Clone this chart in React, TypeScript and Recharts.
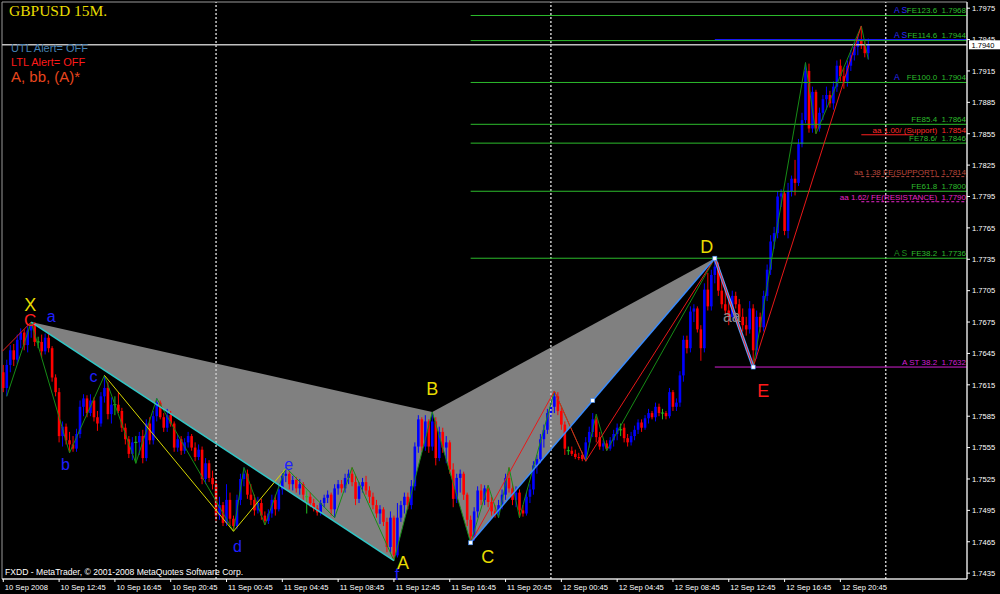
import React from "react";
import {
  ComposedChart,
  XAxis,
  YAxis,
  Bar,
  Line,
  Area,
  ReferenceLine,
  ReferenceDot,
  ReferenceArea,
} from "recharts";

type OHLC = [number, number, number, number]; // open, high, low, close

// GBPUSD M15 — 10 Sep 2008 08:45 to 23:45
const sep10Bars: OHLC[] = [
  [1.7627, 1.7634, 1.7608, 1.7612], [1.7612, 1.7639, 1.7604, 1.7634], [1.7634, 1.7653, 1.7627, 1.7648],
  [1.7648, 1.7654, 1.7633, 1.7639], [1.7639, 1.7663, 1.7635, 1.7658], [1.7658, 1.7669, 1.765, 1.7665],
  [1.7665, 1.7668, 1.7648, 1.7653], [1.7653, 1.7671, 1.7646, 1.7667], [1.7667, 1.7675, 1.766, 1.7672],
  [1.7672, 1.7674, 1.7652, 1.7656], [1.7656, 1.7661, 1.765, 1.7656], [1.7656, 1.7663, 1.7641, 1.7647],
  [1.7647, 1.7664, 1.7644, 1.766], [1.766, 1.7664, 1.7646, 1.765], [1.765, 1.7652, 1.7618, 1.7622],
  [1.7622, 1.7625, 1.7604, 1.7608], [1.7608, 1.7612, 1.756, 1.7566], [1.7566, 1.758, 1.7556, 1.7575],
  [1.7575, 1.7578, 1.7558, 1.7562], [1.7562, 1.757, 1.755, 1.7558], [1.7558, 1.7566, 1.7551, 1.7554],
  [1.7554, 1.7573, 1.7551, 1.7568], [1.7568, 1.76, 1.7564, 1.7594], [1.7594, 1.7606, 1.7585, 1.7602],
  [1.7602, 1.7605, 1.7584, 1.7588], [1.7588, 1.7606, 1.7585, 1.76], [1.76, 1.7603, 1.758, 1.7584],
  [1.7584, 1.759, 1.7571, 1.7578], [1.7578, 1.7608, 1.7575, 1.7604], [1.7604, 1.7624, 1.7598, 1.7612],
  [1.7612, 1.7618, 1.7582, 1.7587], [1.7587, 1.7603, 1.7578, 1.7596], [1.7596, 1.7604, 1.7586, 1.7596],
  [1.7596, 1.7608, 1.7588, 1.759], [1.759, 1.7593, 1.757, 1.7574], [1.7574, 1.7578, 1.7558, 1.7563],
  [1.7563, 1.7566, 1.7545, 1.7549], [1.7549, 1.7565, 1.7543, 1.756], [1.756, 1.7566, 1.754, 1.756],
  [1.756, 1.757, 1.7548, 1.7566], [1.7566, 1.7572, 1.754, 1.7545], [1.7545, 1.7582, 1.7542, 1.7578],
  [1.7578, 1.7584, 1.7558, 1.7562], [1.7562, 1.759, 1.7558, 1.7585], [1.7585, 1.7602, 1.758, 1.7598],
  [1.7598, 1.76, 1.7582, 1.7584], [1.7584, 1.7588, 1.757, 1.7574], [1.7574, 1.7592, 1.757, 1.7586],
  [1.7586, 1.759, 1.7575, 1.7578], [1.7578, 1.758, 1.7551, 1.7555], [1.7555, 1.7567, 1.7551, 1.7563],
  [1.7563, 1.7566, 1.7548, 1.7552], [1.7552, 1.7564, 1.7549, 1.756], [1.756, 1.757, 1.7555, 1.7566],
  [1.7566, 1.7568, 1.7552, 1.7555], [1.7555, 1.756, 1.7542, 1.7546], [1.7546, 1.7558, 1.7543, 1.7553],
  [1.7553, 1.7556, 1.752, 1.7525], [1.7525, 1.7545, 1.752, 1.754], [1.754, 1.7543, 1.7522, 1.7526],
  [1.7526, 1.7533, 1.7515, 1.752],
];

// 11 Sep 2008 00:00 to 23:45
const sep11Bars: OHLC[] = [
  [1.752, 1.7524, 1.7485, 1.749], [1.749, 1.7508, 1.7486, 1.75], [1.75, 1.7503, 1.748, 1.7483],
  [1.7483, 1.752, 1.748, 1.7505], [1.7505, 1.7512, 1.748, 1.7487], [1.7487, 1.749, 1.7475, 1.748],
  [1.748, 1.751, 1.7477, 1.7505], [1.7505, 1.753, 1.75, 1.7525], [1.7525, 1.7536, 1.7518, 1.753],
  [1.753, 1.7534, 1.7506, 1.751], [1.751, 1.752, 1.75, 1.7505], [1.7505, 1.751, 1.749, 1.7495],
  [1.7495, 1.7508, 1.7492, 1.7502], [1.7502, 1.7506, 1.7486, 1.749], [1.749, 1.7494, 1.7481, 1.7485],
  [1.7485, 1.7496, 1.7482, 1.7492], [1.7492, 1.751, 1.7488, 1.7505], [1.7505, 1.751, 1.749, 1.7496],
  [1.7496, 1.752, 1.7494, 1.7515], [1.7515, 1.7532, 1.751, 1.7528], [1.7528, 1.7536, 1.7522, 1.753],
  [1.753, 1.7533, 1.7515, 1.752], [1.752, 1.7528, 1.7514, 1.7524], [1.7524, 1.7527, 1.7512, 1.7516],
  [1.7516, 1.7525, 1.751, 1.752], [1.752, 1.7522, 1.7505, 1.751], [1.7508, 1.7514, 1.7492, 1.7508],
  [1.7508, 1.7512, 1.7498, 1.7502], [1.7502, 1.7506, 1.7494, 1.7497], [1.7497, 1.75, 1.749, 1.7493],
  [1.7493, 1.7505, 1.749, 1.7502], [1.7502, 1.751, 1.7498, 1.7507], [1.7507, 1.7514, 1.7502, 1.751],
  [1.751, 1.7512, 1.749, 1.7496], [1.7496, 1.752, 1.7488, 1.7516], [1.7516, 1.7524, 1.751, 1.752],
  [1.752, 1.7524, 1.7512, 1.7516], [1.7516, 1.753, 1.7512, 1.7526], [1.7526, 1.7534, 1.752, 1.753],
  [1.753, 1.7536, 1.7518, 1.7522], [1.7522, 1.7528, 1.75, 1.7506], [1.7506, 1.7522, 1.7502, 1.7518],
  [1.7518, 1.7526, 1.7512, 1.7522], [1.7522, 1.7528, 1.751, 1.7514], [1.7514, 1.7518, 1.7502, 1.7508],
  [1.7508, 1.7512, 1.7496, 1.75], [1.75, 1.7505, 1.7488, 1.7492], [1.7492, 1.75, 1.7482, 1.7496],
  [1.7496, 1.7498, 1.748, 1.7484], [1.7484, 1.7488, 1.7455, 1.746], [1.746, 1.7494, 1.7455, 1.7488],
  [1.7488, 1.749, 1.7447, 1.7452], [1.7452, 1.7502, 1.745, 1.7488], [1.7488, 1.7504, 1.7484, 1.75],
  [1.75, 1.7512, 1.7492, 1.7508], [1.7508, 1.7512, 1.7496, 1.75], [1.75, 1.7524, 1.7496, 1.7518],
  [1.7518, 1.756, 1.7514, 1.7556], [1.7556, 1.7586, 1.755, 1.7582], [1.7582, 1.7584, 1.7552, 1.7556],
  [1.7556, 1.7586, 1.7552, 1.758], [1.758, 1.7582, 1.755, 1.7556], [1.7556, 1.7589, 1.7552, 1.758],
  [1.758, 1.7584, 1.7538, 1.7545], [1.7545, 1.7575, 1.7542, 1.757], [1.757, 1.7574, 1.755, 1.7555],
  [1.7555, 1.7566, 1.754, 1.756], [1.756, 1.7562, 1.753, 1.7534], [1.7534, 1.754, 1.7498, 1.7506],
  [1.7506, 1.753, 1.7502, 1.7526], [1.7526, 1.7534, 1.7512, 1.753], [1.753, 1.7532, 1.7505, 1.751],
  [1.751, 1.7512, 1.748, 1.7486], [1.7486, 1.749, 1.7464, 1.747], [1.747, 1.7498, 1.7466, 1.7494],
  [1.7494, 1.7518, 1.7488, 1.7514], [1.7514, 1.752, 1.75, 1.7505], [1.7505, 1.7519, 1.75, 1.7516],
  [1.7516, 1.7519, 1.7498, 1.7503], [1.7503, 1.7508, 1.749, 1.7494], [1.7494, 1.75, 1.7488, 1.7491],
  [1.7491, 1.7505, 1.7488, 1.75], [1.75, 1.7515, 1.7496, 1.751], [1.751, 1.753, 1.7505, 1.7526],
  [1.7526, 1.7536, 1.7512, 1.7516], [1.7516, 1.752, 1.75, 1.7505], [1.7505, 1.7518, 1.7498, 1.7512],
  [1.7512, 1.7515, 1.7488, 1.7495], [1.7495, 1.75, 1.7489, 1.7492], [1.7492, 1.7512, 1.749, 1.7508],
  [1.7508, 1.752, 1.7502, 1.7515], [1.7515, 1.7542, 1.751, 1.7538], [1.7538, 1.7548, 1.753, 1.7544],
  [1.7544, 1.7568, 1.754, 1.7563], [1.7563, 1.7577, 1.7555, 1.7572], [1.7572, 1.7592, 1.7568, 1.7588],
];

// 12 Sep 2008 00:00 to 22:45
const sep12Bars: OHLC[] = [
  [1.7588, 1.7598, 1.7582, 1.7594], [1.7594, 1.7609, 1.7588, 1.7604], [1.7604, 1.7608, 1.7586, 1.759],
  [1.759, 1.7594, 1.7572, 1.7577], [1.7577, 1.758, 1.7548, 1.7554], [1.7552, 1.7556, 1.7548, 1.7552],
  [1.7552, 1.7556, 1.7547, 1.7549], [1.7549, 1.7553, 1.7544, 1.7546], [1.7546, 1.755, 1.7543, 1.7545],
  [1.7548, 1.7551, 1.7542, 1.7544], [1.7544, 1.7565, 1.7542, 1.756], [1.756, 1.7575, 1.7555, 1.757],
  [1.757, 1.7588, 1.7565, 1.7582], [1.7582, 1.7585, 1.756, 1.7565], [1.7565, 1.757, 1.7553, 1.7556],
  [1.7556, 1.7562, 1.7552, 1.7559], [1.7559, 1.7562, 1.7552, 1.7554], [1.7554, 1.7565, 1.7552, 1.7562],
  [1.7562, 1.7572, 1.7556, 1.7568], [1.7568, 1.7578, 1.7562, 1.7574], [1.7572, 1.7578, 1.7566, 1.7572],
  [1.7574, 1.7578, 1.756, 1.7564], [1.7564, 1.7568, 1.7556, 1.756], [1.756, 1.757, 1.7557, 1.7566],
  [1.7566, 1.7576, 1.7562, 1.7572], [1.7572, 1.7582, 1.7568, 1.7579], [1.7579, 1.7582, 1.757, 1.7574],
  [1.7574, 1.7586, 1.7572, 1.7583], [1.7583, 1.7592, 1.7578, 1.7588], [1.7588, 1.759, 1.7582, 1.7584],
  [1.7584, 1.7598, 1.758, 1.7594], [1.7594, 1.7597, 1.7585, 1.7588], [1.7588, 1.7592, 1.7582, 1.7588],
  [1.7588, 1.759, 1.7582, 1.7585], [1.7585, 1.7612, 1.7583, 1.7608], [1.7608, 1.761, 1.759, 1.7594],
  [1.7594, 1.7602, 1.759, 1.7598], [1.7598, 1.7628, 1.7594, 1.7624], [1.7624, 1.7662, 1.7618, 1.7658],
  [1.7658, 1.7662, 1.7645, 1.765], [1.765, 1.769, 1.7646, 1.7685], [1.7685, 1.7692, 1.7675, 1.7688],
  [1.7688, 1.769, 1.7665, 1.7668], [1.7668, 1.7672, 1.7638, 1.765], [1.765, 1.7712, 1.7646, 1.7706],
  [1.7706, 1.7722, 1.7686, 1.769], [1.769, 1.7725, 1.7686, 1.772], [1.772, 1.7736, 1.7712, 1.7728],
  [1.7728, 1.7732, 1.77, 1.7705], [1.7705, 1.7715, 1.7688, 1.7692], [1.7692, 1.7706, 1.7682, 1.7686],
  [1.7686, 1.77, 1.7672, 1.768], [1.768, 1.7705, 1.7676, 1.77], [1.77, 1.7704, 1.7688, 1.7692],
  [1.7692, 1.7697, 1.7675, 1.768], [1.768, 1.7688, 1.7666, 1.7672], [1.7672, 1.768, 1.7662, 1.7668],
  [1.7668, 1.7695, 1.7664, 1.7688], [1.7688, 1.7692, 1.7632, 1.7648], [1.7648, 1.7686, 1.764, 1.768],
  [1.768, 1.7684, 1.7665, 1.767], [1.767, 1.7705, 1.7666, 1.77], [1.77, 1.773, 1.7695, 1.7725],
  [1.7725, 1.7758, 1.772, 1.7752], [1.7752, 1.7766, 1.7745, 1.776], [1.776, 1.78, 1.7755, 1.7795],
  [1.7795, 1.7802, 1.7785, 1.7798], [1.7798, 1.78, 1.7758, 1.7762], [1.7762, 1.7808, 1.7755, 1.78],
  [1.78, 1.7815, 1.7795, 1.7812], [1.7812, 1.783, 1.7796, 1.7808], [1.7808, 1.785, 1.7805, 1.7845],
  [1.7845, 1.7875, 1.7842, 1.7868], [1.7868, 1.7923, 1.7865, 1.7915], [1.7915, 1.7922, 1.7856, 1.786],
  [1.786, 1.79, 1.7856, 1.7895], [1.7895, 1.7897, 1.7855, 1.786], [1.786, 1.788, 1.7857, 1.7875],
  [1.7875, 1.7892, 1.7868, 1.7888], [1.7888, 1.79, 1.7878, 1.7892], [1.7892, 1.7896, 1.788, 1.7884],
  [1.7884, 1.7905, 1.7878, 1.79], [1.79, 1.7925, 1.7895, 1.792], [1.792, 1.7926, 1.7905, 1.791],
  [1.791, 1.7918, 1.7898, 1.7905], [1.7905, 1.7925, 1.79, 1.792], [1.792, 1.7935, 1.7915, 1.793],
  [1.793, 1.7942, 1.7925, 1.7938], [1.7938, 1.7948, 1.793, 1.7944], [1.7944, 1.7958, 1.7936, 1.794],
  [1.794, 1.7944, 1.7928, 1.7932], [1.7932, 1.7946, 1.7926, 1.794],
];

// time axis: bar index of each label (bar 0 = 10 Sep 08:45)
const timeTickBars = [0, 16, 32, 48, 64, 80, 96, 112, 128, 144, 160, 176, 192, 208, 224, 240];
const timeLabels = [
  "10 Sep 2008", "10 Sep 12:45", "10 Sep 16:45", "10 Sep 20:45",
  "11 Sep 00:45", "11 Sep 04:45", "11 Sep 08:45", "11 Sep 12:45",
  "11 Sep 16:45", "11 Sep 20:45", "12 Sep 00:45", "12 Sep 04:45",
  "12 Sep 08:45", "12 Sep 12:45", "12 Sep 16:45", "12 Sep 20:45",
];
const daySeparatorBars = [61, 157, 253];

const priceTicks = [
  1.7435, 1.7465, 1.7495, 1.7525, 1.7555, 1.7585, 1.7615, 1.7645, 1.7675, 1.7705,
  1.7735, 1.7765, 1.7795, 1.7825, 1.7855, 1.7885, 1.7915, 1.7945, 1.7975,
];
const bidPrice = 1.794;

// harmonic pattern pivots (bar index, price)
const X = { i: 8, p: 1.7675 };
const A = { i: 112, p: 1.7447 };
const B = { i: 123, p: 1.7589 };
const C = { i: 134, p: 1.7464 };
const D = { i: 204, p: 1.7736 };
const E = { i: 215, p: 1.7632 };
const cdMid = { i: 169, p: 1.76 };
const smallB = { i: 19, p: 1.755 };
const smallC = { i: 29, p: 1.7624 };
const smallD = { i: 66, p: 1.7475 };
const smallE = { i: 81, p: 1.7535 };

const greenZigzag: [number, number][] = [
  [1, 1.7604], [8, 1.7675], [19, 1.755], [29, 1.7624], [38, 1.754], [44, 1.7602],
  [66, 1.7475], [69, 1.7536], [75, 1.7481], [81, 1.7536], [95, 1.7488], [100, 1.7536],
  [112, 1.7447], [123, 1.7589], [134, 1.7464], [139, 1.7519], [142, 1.7488], [145, 1.7536],
  [148, 1.7488], [158, 1.7609], [167, 1.7542], [170, 1.7587], [173, 1.7552], [204, 1.7736],
  [215, 1.7632], [230, 1.7923], [233, 1.7855], [246, 1.7958], [248, 1.7926],
];
const redLegs: [number, number][][] = [
  [[-0.3, 1.7647], [8, 1.7675]],
  [[134, 1.7464], [158, 1.7609], [167, 1.7542], [204, 1.7736]],
  [[215, 1.7632], [246, 1.7958]],
];
const yellowLeg: [number, number][] = [[29, 1.7624], [66, 1.7475], [81, 1.7535]];

// Fibonacci expansion levels
const feLevels = [
  { label: "FE123.6  1.7968", value: 1.7968, tag: "A S" },
  { label: "FE114.6  1.7944", value: 1.7944, tag: "A S" },
  { label: "FE100.0  1.7904", value: 1.7904, tag: "A" },
  { label: "FE85.4  1.7864", value: 1.7864, tag: "" },
  { label: "FE78.6/  1.7846", value: 1.7846, tag: "" },
  { label: "FE61.8  1.7800", value: 1.78, tag: "" },
  { label: "FE38.2  1.7736", value: 1.7736, tag: "A S" },
];
const supportLevel = { label: "aa 1.00/ (Support)  1.7854", value: 1.7854 };
const feSupport = { label: "aa 1.38 FE(SUPPORT)  1.7814", value: 1.7814 };
const feResistance = { label: "aa 1.62/ FE(RESISTANCE)  1.7790", value: 1.779 };
const stLevel = { label: "A ST 38.2  1.7632", value: 1.7632 };
const blueTarget = 1.7945;

// ---- layout / style ----
const W = 1000;
const H = 594;
const X_MIN = -0.37;
const X_MAX = 276.3;
const Y_MIN = 1.74294;
const Y_MAX = 1.79809;
const SANS = '"Liberation Sans", Arial, sans-serif';
const SERIF = '"Liberation Serif", "Times New Roman", serif';
const BULL = "#0000ff";
const BEAR = "#ff0000";
const DOJI = "#22c022";
const YELLOW = "#e8dc00";
const LETTER_BLUE = "#1f1fff";
const FE_GREEN = "#2cbc2c";

const candles = [...sep10Bars, ...sep11Bars, ...sep12Bars].map(([o, h, l, c], i) => ({
  i, o, h, l, c, range: [l, h],
}));

const pts = (pairs: [number, number][]) => pairs.map(([i, p]) => ({ i, p }));
const along = (a: { i: number; p: number }, b: { i: number; p: number }, i: number) =>
  a.p + ((b.p - a.p) * (i - a.i)) / (b.i - a.i);

const triangleXAB = [
  { i: X.i, r: [X.p, X.p] },
  { i: A.i, r: [A.p, along(X, B, A.i)] },
  { i: B.i, r: [B.p, B.p] },
];
const triangleBCD = [
  { i: B.i, r: [B.p, B.p] },
  { i: C.i, r: [C.p, along(B, D, C.i)] },
  { i: D.i, r: [D.p, D.p] },
];
const span = (from: number, to: number, v: number) => [
  { i: from, p: v },
  { i: to, p: v },
];

function CandleShape(props: any) {
  const { x, y, width, height, payload } = props;
  if (!payload || typeof x !== "number" || typeof y !== "number") return null;
  const top = Math.min(y, y + height);
  const bottom = Math.max(y, y + height);
  const { o, h, l, c } = payload;
  const rng = h - l || 1;
  const py = (v: number) => top + ((h - v) / rng) * (bottom - top);
  const cx = x + width / 2;
  const color = c > o ? BULL : c < o ? BEAR : DOJI;
  const bTop = py(Math.max(o, c));
  const bBot = py(Math.min(o, c));
  return (
    <g>
      <line x1={cx} x2={cx} y1={top} y2={bottom} stroke={color} strokeWidth={1} />
      {c === o ? (
        <line x1={cx - 1.6} x2={cx + 1.6} y1={bTop} y2={bTop} stroke={color} strokeWidth={1} />
      ) : (
        <rect x={cx - 1.3} y={bTop} width={2.6} height={Math.max(1, bBot - bTop)} fill={color} />
      )}
    </g>
  );
}

const textShape =
  (text: string, color: string, size: number, dx: number, dy: number, anchor = "middle", family = SANS) =>
  (props: any) =>
    (
      <text
        x={props.cx + dx}
        y={props.cy + dy}
        fill={color}
        fontSize={size}
        fontFamily={family}
        textAnchor={anchor}
        style={{ whiteSpace: "pre" }}
      >
        {text}
      </text>
    );

const markerShape = (props: any) => (
  <rect x={props.cx - 2} y={props.cy - 2} width={4} height={4} fill="#ffffff" stroke="#3a8cff" strokeWidth={0.6} />
);

const priceBoxShape = (props: any) => (
  <g>
    <rect x={props.cx + 2} y={props.cy - 4.5} width={31} height={9} fill="#ffffff" />
    <text x={props.cx + 4.5} y={props.cy + 2.8} fill="#000" fontSize={7.5} fontFamily={SANS}>
      {bidPrice.toFixed(4)}
    </text>
  </g>
);

const pointLabels = [
  { text: "X", at: X, color: YELLOW, size: 18, dx: -1, dy: -11 },
  { text: "C", at: X, color: "#ff2020", size: 17, dx: -1, dy: 4 },
  { text: "a", at: X, color: LETTER_BLUE, size: 16, dx: 20, dy: 0 },
  { text: "b", at: smallB, color: LETTER_BLUE, size: 16, dx: -4, dy: 17 },
  { text: "c", at: smallC, color: LETTER_BLUE, size: 16, dx: -11, dy: 7 },
  { text: "d", at: smallD, color: LETTER_BLUE, size: 16, dx: 4, dy: 21 },
  { text: "e", at: smallE, color: LETTER_BLUE, size: 16, dx: 3, dy: 1 },
  { text: "f", at: A, color: LETTER_BLUE, size: 16, dx: 3, dy: 19 },
  { text: "A", at: A, color: YELLOW, size: 18, dx: 9, dy: 8 },
  { text: "B", at: B, color: YELLOW, size: 18, dx: 0, dy: -17 },
  { text: "C", at: C, color: YELLOW, size: 18, dx: 17, dy: 20 },
  { text: "D", at: D, color: YELLOW, size: 18, dx: -8, dy: -5 },
  { text: "E", at: E, color: "#ff1a1a", size: 18, dx: 10, dy: 30 },
  { text: "aa", at: D, color: "#8a8a8a", size: 16, dx: 17, dy: 64 },
];

const TimeTick = (props: any) => {
  const { x, y, payload, index } = props;
  const k = timeTickBars.indexOf(payload.value);
  const label = timeLabels[k >= 0 ? k : index] ?? "";
  return (
    <text x={x + 1.5} y={y + 8} fill="#ffffff" fontSize={7.6} fontFamily={SANS} textAnchor="start">
      {label}
    </text>
  );
};

const PriceTick = (props: any) => {
  const { x, y, payload } = props;
  return (
    <text x={x} y={y + 2.8} fill="#ffffff" fontSize={7.6} fontFamily={SANS} textAnchor="start">
      {Number(payload.value).toFixed(4)}
    </text>
  );
};

export default function App() {
  return (
    <div style={{ position: "fixed", left: 0, top: 0, width: W, height: H, background: "#000", overflow: "hidden" }}>
      <ComposedChart width={W} height={H} data={candles} margin={{ top: 2, right: 0, bottom: 0, left: 2 }}>
        <XAxis
          dataKey="i"
          type="number"
          domain={[X_MIN, X_MAX]}
          allowDataOverflow
          ticks={timeTickBars}
          interval={0}
          height={15}
          tickSize={3}
          tickMargin={0}
          axisLine={{ stroke: "#ffffff" }}
          tickLine={{ stroke: "#ffffff" }}
          tick={TimeTick}
        />
        <YAxis
          orientation="right"
          type="number"
          domain={[Y_MIN, Y_MAX]}
          allowDataOverflow
          ticks={priceTicks}
          interval={0}
          width={33}
          tickSize={3}
          tickMargin={2}
          axisLine={{ stroke: "#ffffff" }}
          tickLine={{ stroke: "#ffffff" }}
          tick={PriceTick}
        />

        <ReferenceArea x1={X_MIN} x2={X_MAX} y1={Y_MIN} y2={Y_MAX} fill="none" stroke="#9a9a9a" ifOverflow="visible" />

        {/* pattern triangles */}
        <Area data={triangleXAB} dataKey="r" type="linear" fill="#808080" fillOpacity={1} stroke="none" dot={false} activeDot={false} isAnimationActive={false} />
        <Area data={triangleBCD} dataKey="r" type="linear" fill="#808080" fillOpacity={1} stroke="none" dot={false} activeDot={false} isAnimationActive={false} />

        {daySeparatorBars.map((b) => (
          <ReferenceLine key={`sep${b}`} x={b} stroke="#c8c8c8" strokeWidth={1.5} strokeDasharray="2 2" ifOverflow="visible" />
        ))}

        {/* level lines */}
        {feLevels.map((lv) => (
          <Line key={`fe${lv.value}`} data={span(C.i, X_MAX, lv.value)} dataKey="p" stroke={FE_GREEN} strokeWidth={1} dot={false} activeDot={false} isAnimationActive={false} />
        ))}
        <Line data={span(D.i, X_MAX, blueTarget)} dataKey="p" stroke="#1a1aff" strokeWidth={1} dot={false} activeDot={false} isAnimationActive={false} />
        <Line data={span(X_MIN, X_MAX, bidPrice)} dataKey="p" stroke="#c0c0c0" strokeWidth={1.5} dot={false} activeDot={false} isAnimationActive={false} />
        <Line data={span(246, 261, supportLevel.value)} dataKey="p" stroke="#ff2020" strokeWidth={1} dot={false} activeDot={false} isAnimationActive={false} />
        <Line data={span(246, X_MAX, feSupport.value)} dataKey="p" stroke="#b8463a" strokeWidth={1} strokeDasharray="3 2" dot={false} activeDot={false} isAnimationActive={false} />
        <Line data={span(246, X_MAX, feResistance.value)} dataKey="p" stroke="#e824c8" strokeWidth={1} strokeDasharray="3 2" dot={false} activeDot={false} isAnimationActive={false} />
        <Line data={span(D.i, X_MAX, stLevel.value)} dataKey="p" stroke="#d21ed2" strokeWidth={1} dot={false} activeDot={false} isAnimationActive={false} />

        {/* candles */}
        <Bar dataKey="range" barSize={3} shape={CandleShape} isAnimationActive={false} />

        {/* swing lines */}
        <Line data={pts(greenZigzag)} dataKey="p" stroke="#168c16" strokeWidth={1} dot={false} activeDot={false} isAnimationActive={false} />
        {redLegs.map((leg, k) => (
          <Line key={`red${k}`} data={pts(leg)} dataKey="p" stroke="#e81818" strokeWidth={1} dot={false} activeDot={false} isAnimationActive={false} />
        ))}
        <Line data={pts(yellowLeg)} dataKey="p" stroke="#d8d800" strokeWidth={1} dot={false} activeDot={false} isAnimationActive={false} />
        <Line data={[X, A]} dataKey="p" stroke="#30c8c8" strokeWidth={1.5} dot={false} activeDot={false} isAnimationActive={false} />
        <Line data={[C, D]} dataKey="p" stroke="#3a8cff" strokeWidth={1.5} dot={false} activeDot={false} isAnimationActive={false} />
        <Line data={[D, E]} dataKey="p" stroke="#5aa0ff" strokeWidth={3} dot={false} activeDot={false} isAnimationActive={false} />
        <Line data={[D, E]} dataKey="p" stroke="#ff2020" strokeWidth={1} dot={false} activeDot={false} isAnimationActive={false} />

        {[C, cdMid, D, E].map((m, k) => (
          <ReferenceDot key={`m${k}`} x={m.i} y={m.p} r={2} shape={markerShape} ifOverflow="visible" />
        ))}

        {/* level labels */}
        {feLevels.map((lv) => (
          <ReferenceDot key={`fel${lv.value}`} x={X_MAX} y={lv.value} r={0} ifOverflow="visible" shape={textShape(lv.label, FE_GREEN, 8, -1, -2.5, "end")} />
        ))}
        {feLevels
          .filter((lv) => lv.tag)
          .map((lv) => (
            <ReferenceDot key={`tag${lv.value}`} x={X_MAX} y={lv.value} r={0} ifOverflow="visible" shape={textShape(lv.tag, lv.value === D.p ? "#1e8c1e" : "#2a2aff", 8.5, -73, -2.5, "start")} />
          ))}
        <ReferenceDot x={X_MAX} y={supportLevel.value} r={0} ifOverflow="visible" shape={textShape(supportLevel.label, "#ff2a2a", 8, -1, -2, "end")} />
        <ReferenceDot x={X_MAX} y={feSupport.value} r={0} ifOverflow="visible" shape={textShape(feSupport.label, "#b8463a", 8, -1, -2, "end")} />
        <ReferenceDot x={X_MAX} y={feResistance.value} r={0} ifOverflow="visible" shape={textShape(feResistance.label, "#e824c8", 8, -1, -2, "end")} />
        <ReferenceDot x={X_MAX} y={stLevel.value} r={0} ifOverflow="visible" shape={textShape(stLevel.label, "#d21ed2", 8, -1, -2, "end")} />

        {/* pivot letters */}
        {pointLabels.map((lb, k) => (
          <ReferenceDot key={`pl${k}`} x={lb.at.i} y={lb.at.p} r={0} ifOverflow="visible" shape={textShape(lb.text, lb.color, lb.size, lb.dx, lb.dy)} />
        ))}

        <ReferenceDot x={X_MAX} y={bidPrice} r={0} ifOverflow="visible" shape={priceBoxShape} />
      </ComposedChart>

      <svg width={W} height={H} style={{ position: "absolute", left: 0, top: 0, pointerEvents: "none" }}>
        <text x={9} y={16} fill={YELLOW} fontSize={15.5} fontFamily={SERIF}>GBPUSD 15M.</text>
        <text x={11} y={52} fill="#4682b4" fontSize={11} fontFamily={SANS}>UTL Alert= OFF</text>
        <text x={11} y={66} fill="#ff1a1a" fontSize={11} fontFamily={SANS}>LTL Alert= OFF</text>
        <text x={11} y={82} fill="#e8461e" fontSize={15} fontFamily={SANS}>A, bb, (A)*</text>
        <text x={5} y={575} fill="#ffffff" fontSize={8.6} fontFamily={SANS}>
          FXDD - MetaTrader, © 2001-2008 MetaQuotes Software Corp.
        </text>
      </svg>
    </div>
  );
}
